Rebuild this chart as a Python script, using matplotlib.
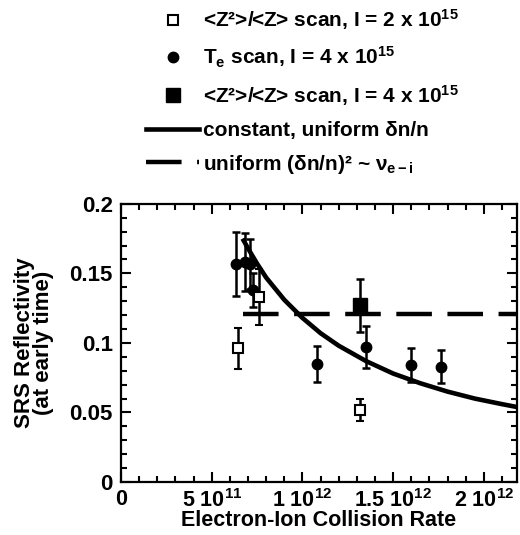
import matplotlib
matplotlib.use("Agg")
import matplotlib.pyplot as plt
from matplotlib.lines import Line2D
from matplotlib.ticker import MultipleLocator

plt.rcParams['font.family'] = ['Liberation Sans', 'DejaVu Sans']
plt.rcParams['font.weight'] = 'bold'
plt.rcParams['mathtext.fontset'] = 'custom'
plt.rcParams['mathtext.rm'] = 'Liberation Sans:bold'
plt.rcParams['mathtext.it'] = 'Liberation Sans:bold'
plt.rcParams['mathtext.bf'] = 'Liberation Sans:bold'
plt.rcParams['mathtext.default'] = 'rm'

# T_e scan, I = 4 x 10^15 (filled circles)
te_x = [6.35e11, 6.85e11, 7.1e11, 7.3e11, 1.08e12, 1.35e12, 1.60e12, 1.765e12]
te_y = [0.157, 0.158, 0.157, 0.138, 0.085, 0.097, 0.084, 0.083]
te_err = [0.023, 0.021, 0.018, 0.012, 0.013, 0.015, 0.012, 0.012]

# <Z^2>/<Z> scan, I = 2 x 10^15 (open squares)
z2_x = [6.45e11, 7.6e11, 1.32e12]
z2_y = [0.096, 0.133, 0.052]
z2_err = [0.015, 0.02, 0.008]

# <Z^2>/<Z> scan, I = 4 x 10^15 (filled square)
z4_x = [1.32e12]
z4_y = [0.127]
z4_err = [0.019]

# model curve: constant, uniform dn/n
curve_x = [6.7e11, 7.0e11, 7.5e11, 8.0e11, 9.0e11, 1.0e12, 1.1e12, 1.2e12,
           1.35e12, 1.5e12, 1.65e12, 1.8e12, 1.95e12, 2.1e12, 2.18e12]
curve_y = [0.175, 0.168, 0.157, 0.147, 0.131, 0.118, 0.107, 0.098,
           0.087, 0.078, 0.071, 0.065, 0.060, 0.056, 0.054]

# model: uniform (dn/n)^2 ~ nu_ei
flat_x = [6.7e11, 2.18e12]
flat_y = [0.121, 0.121]

xticks = [0, 5e11, 1e12, 1.5e12, 2e12]
xtick_labels = ['0', '5 10$^{11}$', '1 10$^{12}$', '1.5 10$^{12}$', '2 10$^{12}$']
yticks = [0, 0.05, 0.1, 0.15, 0.2]
ytick_labels = ['0', '0.05', '0.1', '0.15', '0.2']

fig = plt.figure(figsize=(5.2, 5.35), dpi=100)
ax = fig.add_axes([0.2327, 0.099, 0.7606, 0.520])

ax.plot(curve_x, curve_y, color='black', lw=3.3, solid_capstyle='butt')
ax.plot(flat_x, flat_y, color='black', lw=3.2, dashes=(8, 3.5))

ax.errorbar(te_x, te_y, yerr=te_err, fmt='o', color='black', ms=7.5,
            elinewidth=1.8, capsize=3, capthick=1.8)
ax.errorbar(z2_x, z2_y, yerr=z2_err, fmt='s', color='black', mfc='white',
            mec='black', mew=1.5, ms=6.5, elinewidth=1.8, capsize=3, capthick=1.8)
ax.errorbar(z4_x, z4_y, yerr=z4_err, fmt='s', color='black', ms=10,
            elinewidth=1.8, capsize=3, capthick=1.8)

ax.set_xlim(0, 2.18e12)
ax.set_ylim(0, 0.2)
ax.set_xticks(xticks)
ax.set_xticklabels(xtick_labels)
ax.set_yticks(yticks)
ax.set_yticklabels(ytick_labels)
ax.xaxis.set_minor_locator(MultipleLocator(1e11))
ax.yaxis.set_minor_locator(MultipleLocator(0.01))
ax.tick_params(which='both', direction='in', top=True, right=True, width=1.5,
               labelsize=16)
ax.tick_params(axis='x', labelsize=15.5, pad=5)
ax.tick_params(which='major', length=7)
ax.tick_params(which='minor', length=4)
ax.tick_params(axis='y', pad=6)
for s in ax.spines.values():
    s.set_linewidth(1.6)

ax.set_xlabel('Electron-Ion Collision Rate', fontsize=15.5, fontweight='bold', labelpad=-1)
ax.set_ylabel('SRS Reflectivity\n(at early time)', fontsize=16, fontweight='bold',
              labelpad=11, linespacing=0.9)

handles = [
    Line2D([], [], ls='none', marker='s', mfc='white', mec='black', mew=1.5, ms=6.5),
    Line2D([], [], ls='none', marker='o', color='black', ms=7.5),
    Line2D([], [], ls='none', marker='s', color='black', ms=10),
    Line2D([], [], color='black', lw=3.3),
    Line2D([], [], color='black', lw=3.2, dashes=(8, 3.5)),
]
labels = [
    '<Z²>/<Z> scan, I = 2 x 10$^{15}$',
    'T$_e$ scan, I = 4 x 10$^{15}$',
    '<Z²>/<Z> scan, I = 4 x 10$^{15}$',
    'constant, uniform δn/n',
    'uniform (δn/n)² ~ ν$_{e-i}$',
]
fig.legend(handles, labels, loc='upper left', bbox_to_anchor=(0.253, 1.014),
           frameon=False, fontsize=15, handlelength=2.55, handletextpad=0.2,
           labelspacing=0.62, borderaxespad=0.3)

fig.savefig('out.png', dpi=100)
